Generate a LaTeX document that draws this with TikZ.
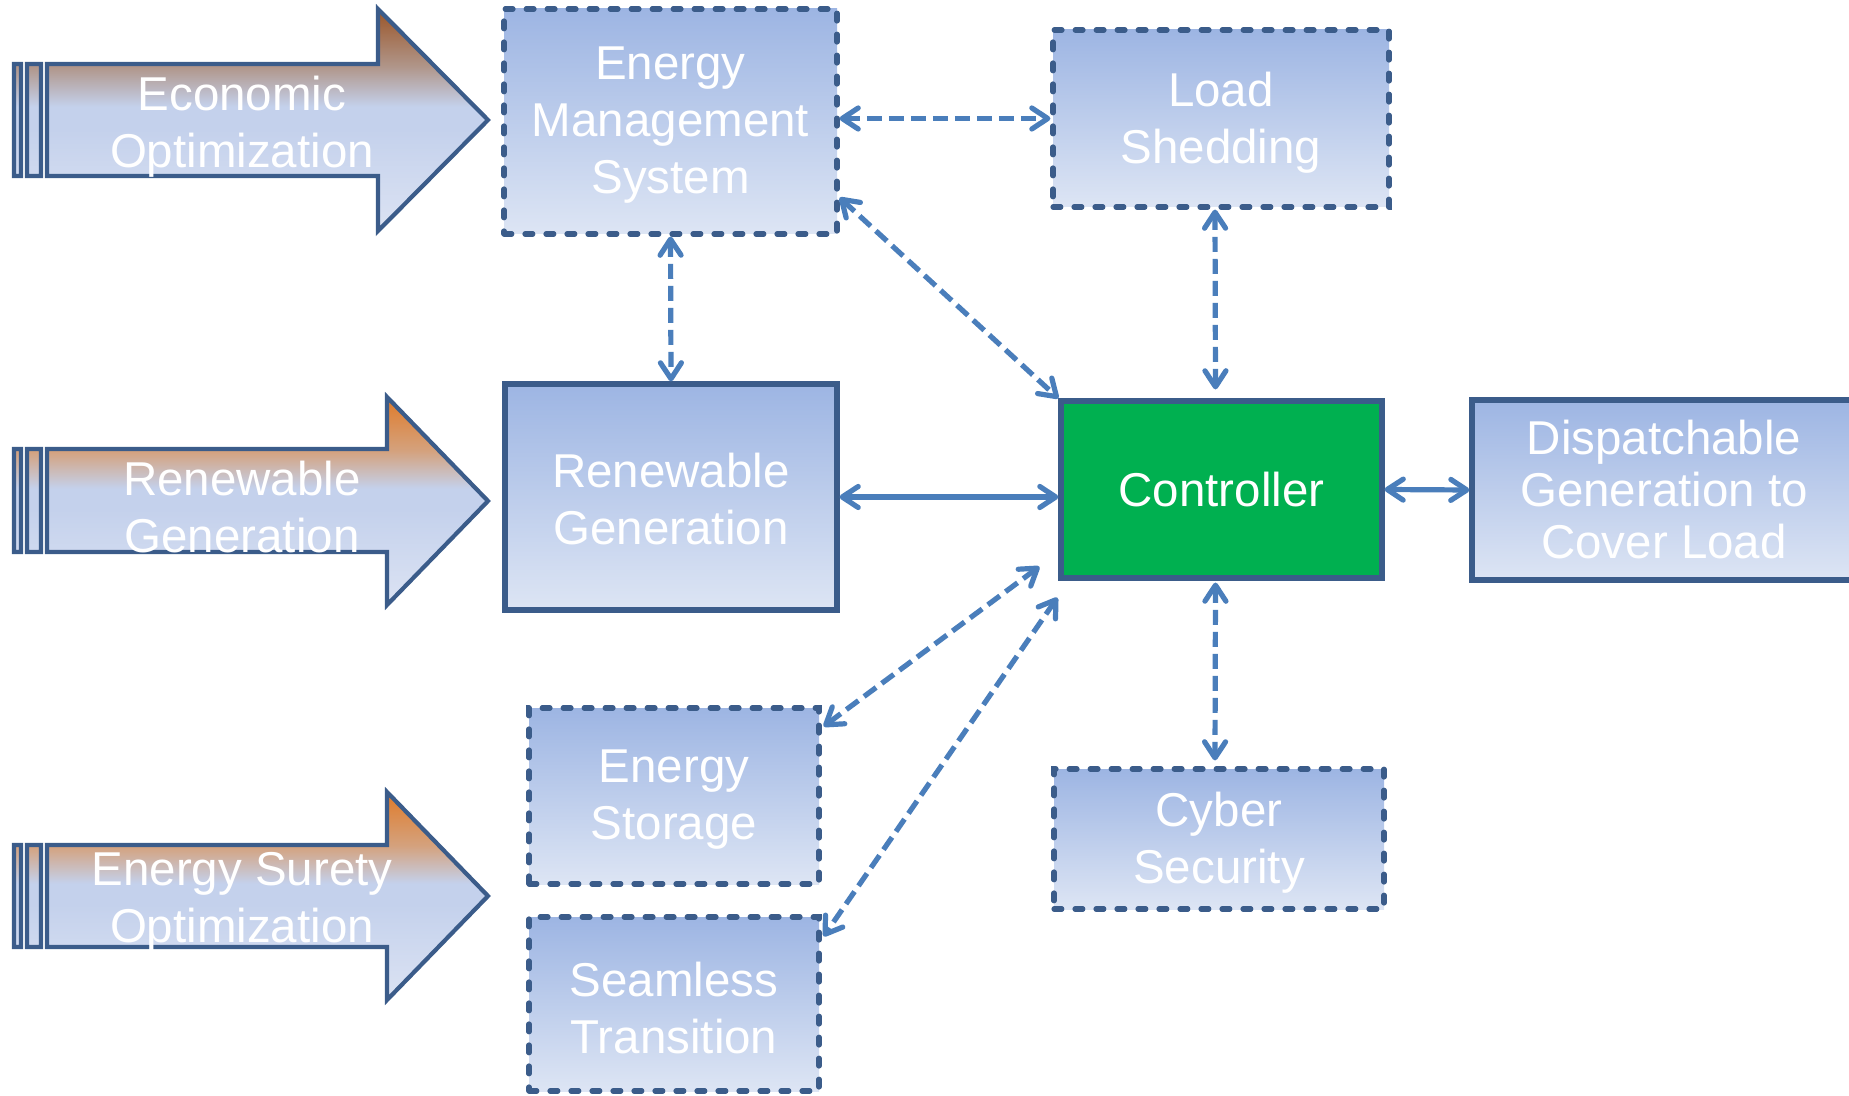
\documentclass[tikz,border=0pt]{standalone}
\usepackage{fontspec}
\setmainfont{Liberation Sans}
\usetikzlibrary{arrows.meta,calc}
\definecolor{bdr}{HTML}{3B5C8A}
\definecolor{lineblue}{HTML}{4A7EBB}
\definecolor{boxtop}{HTML}{9DB5E3}
\definecolor{boxbot}{HTML}{DDE5F4}
\definecolor{ctrlgreen}{HTML}{00B050}
\definecolor{abot}{HTML}{DCE3F3}
\definecolor{amid}{HTML}{C4D1EC}
\definecolor{aAtan}{HTML}{B0968A}
\definecolor{aAtop}{HTML}{9A5427}
\definecolor{aBtan}{HTML}{D4A27E}
\definecolor{aBtop}{HTML}{E07A28}
\pgfdeclareverticalshading{arrowA}{100bp}{color(0bp)=(abot); color(25bp)=(abot); color(48bp)=(amid); color(53bp)=(amid); color(62bp)=(aAtan); color(75bp)=(aAtop); color(100bp)=(aAtop)}
\pgfdeclareverticalshading{arrowB}{100bp}{color(0bp)=(abot); color(25bp)=(abot); color(48bp)=(amid); color(53bp)=(amid); color(62bp)=(aBtan); color(75bp)=(aBtop); color(100bp)=(aBtop)}
\begin{document}
\begin{tikzpicture}[x=0.5pt, y=-0.5pt,
  txt/.style={text=white, align=center, inner sep=0pt, font=\fontsize{23.75}{28.5}\selectfont},
  boxshape/.style={draw=bdr, line width=2.6pt, top color=boxtop, bottom color=boxbot, inner sep=0pt},
  dboxshape/.style={boxshape, dash pattern=on 3.9pt off 6.6pt, line cap=round},
  ctrlbox/.style={txt, draw=bdr, line width=2.6pt, fill=ctrlgreen},
  lbl/.style={txt, yshift=-2pt},
  bigarrow/.style={draw=bdr, line width=2.1pt, line join=miter},
  link/.style={draw=lineblue, line width=2.6pt, {Straight Barb[length=8pt,width=10.5pt,round]}-{Straight Barb[length=8pt,width=10.5pt,round]}},
  dlink/.style={link, dash pattern=on 7.5pt off 3.5pt}
]
\useasboundingbox (0,0) rectangle (1849,1096);
\clip (0,0) rectangle (1849,1096);

% striped arrows
\shadedraw[bigarrow, shading=arrowA] (14,64) rectangle (21,176) (27,64) rectangle (41,176)
  (47,64) -- (378,64) -- (378,9) -- (488,120) -- (378,231) -- (378,176) -- (47,176) -- cycle;
\shadedraw[bigarrow, shading=arrowB] (14,449) rectangle (21,552) (27,449) rectangle (41,552)
  (47,449) -- (387,449) -- (387,397) -- (488,501) -- (387,605) -- (387,552) -- (47,552) -- cycle;
\shadedraw[bigarrow, shading=arrowB] (14,845) rectangle (21,947) (27,845) rectangle (41,947)
  (47,845) -- (387,845) -- (387,792) -- (488,896) -- (387,1000) -- (387,947) -- (47,947) -- cycle;
\node[txt, yshift=-2.5pt] (t1) at (242,122) {Economic\\Optimization};
\node[txt, yshift=-2.5pt] (t2) at (242,502) {Renewable\\Generation};
\node[txt, yshift=-2.5pt] (t3) at (242,897) {Energy Surety\\Optimization};

% boxes
\node[dboxshape, minimum width=166.5pt, minimum height=112.5pt,
  label={[lbl]center:{Energy\\Management\\System}}] (ems) at (670.5,121.5) {};
\node[dboxshape, minimum width=168pt, minimum height=88.5pt,
  label={[lbl]center:{Load\\Shedding}}] (ls) at (1221,118.5) {};
\node[boxshape, minimum width=166pt, minimum height=113pt,
  label={[lbl, yshift=1pt]center:{Renewable\\Generation}}] (ren) at (671,497) {};
\node[ctrlbox, minimum width=160.5pt, minimum height=88.5pt] (ctrl) at (1221.5,489.5) {Controller};
\node[boxshape, minimum width=192pt, minimum height=90pt,
  label={[txt, font=\fontsize{23.75}{26}\selectfont]center:{Dispatchable\\Generation to\\Cover Load}}] (disp) at (1664,490) {};
\node[dboxshape, minimum width=145pt, minimum height=88pt,
  label={[lbl]center:{Energy\\Storage}}] (es) at (674,796) {};
\node[dboxshape, minimum width=145pt, minimum height=87pt,
  label={[lbl]center:{Seamless\\Transition}}] (st) at (674,1004) {};
\node[dboxshape, minimum width=165pt, minimum height=70pt,
  label={[lbl]center:{Cyber\\Security}}] (cs) at (1219,839) {};

% connectors
\draw[dlink] (ems.east |- ls.west) -- (ls.west);
\draw[dlink] (ems.south) -- (ren.north);
\draw[dlink] ($(ems.south east)+(0,-39)$) -- (ctrl.north west);
\draw[dlink] ($(ls.south)+(-6,0)$) -- ($(ctrl.north)+(-6,-9)$);
\draw[link] (ren.east) -- (ren.east -| ctrl.west);
\draw[link] (ctrl.east) -- (disp.west);
\draw[dlink] ($(ctrl.south)+(-6,2)$) -- ($(cs.north)+(-4,-6)$);
\draw[dlink] ($(ctrl.south west)+(-19,-14)$) -- ($(es.north east)+(2,21)$);
\draw[dlink] ($(ctrl.south west)+(-1,17)$) -- ($(st.north east)+(2,22)$);
\end{tikzpicture}
\end{document}
